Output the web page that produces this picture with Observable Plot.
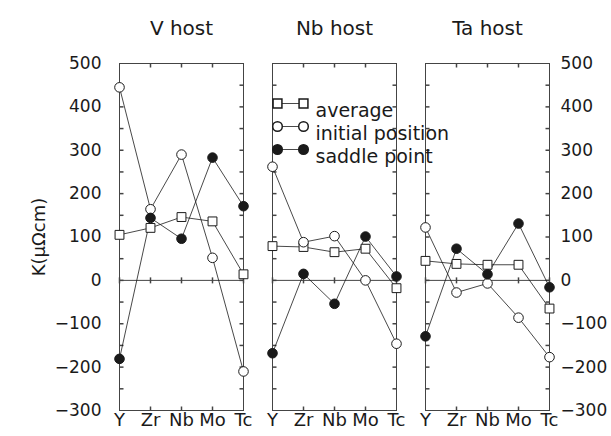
<!DOCTYPE html>
<html><head><meta charset="utf-8">
<script src="https://cdn.jsdelivr.net/npm/d3@7"></script>
<script src="https://cdn.jsdelivr.net/npm/@observablehq/plot@0.6"></script>
<style>body{margin:0;background:#fff;} #chart svg{display:block;}</style>
</head><body><div id="chart"></div>
<script>
const hosts = ["V host", "Nb host", "Ta host"];
const solutes = ["Y", "Zr", "Nb", "Mo", "Tc"];
const seriesNames = ["average", "initial position", "saddle point"];
const averageV  = [105, 121, 146, 136, 14];
const averageNb = [79, 77, 65, 73, -18];
const averageTa = [45, 38, 36, 36, -65];
const initialV  = [445, 164, 290, 52, -210];
const initialNb = [262, 88, 102, 0, -146];
const initialTa = [122, -28, -7, -86, -177];
const saddleV   = [-181, 144, 96, 283, 171];
const saddleNb  = [-168, 15, -54, 101, 9];
const saddleTa  = [-129, 73, 14, 131, -16];
const yTicks = [-300, -200, -100, 0, 100, 200, 300, 400, 500];
const yMinorTicks = [-250, -200, -150, -100, -50, 0, 50, 100, 150, 200, 250, 300, 350, 400, 450];
const yLabel = "K(μΩcm)";

const seriesValues = {
  "average": [averageV, averageNb, averageTa],
  "initial position": [initialV, initialNb, initialTa],
  "saddle point": [saddleV, saddleNb, saddleTa]
};
const rows = [];
for (const s of seriesNames) hosts.forEach((h, hi) => solutes.forEach((el, i) =>
  rows.push({series: s, host: h, solute: el, value: seriesValues[s][hi][i]})));

const tickRows = hosts.flatMap(h => yMinorTicks.map(v => ({host: h, v})));
const xTickRows = hosts.flatMap(h => solutes.slice(1, 4).map(el => ({host: h, solute: el})));
const zeroTickRows = hosts.flatMap(h => solutes.map(el => ({host: h, solute: el, v: 0})));

const seg = (x1, y1, x2, y2) => ({draw(ctx) { ctx.moveTo(x1, y1); ctx.lineTo(x2, y2); }});
const ink = "#1a1a1a";
const markerStyle = {
  "average": {symbol: "square", r: 5, fill: "white"},
  "initial position": {symbol: "circle", r: 4.8, fill: "white"},
  "saddle point": {symbol: "circle", r: 4.8, fill: ink}
};

const marks = [
  Plot.frame({stroke: "#444", strokeWidth: 1}),
  Plot.ruleY([0], {stroke: "#444", strokeWidth: 1}),
  Plot.dot(tickRows, {fx: "host", x: () => "Y", y: "v", symbol: seg(0, 0, 4, 0), stroke: "#444", fill: "none"}),
  Plot.dot(tickRows, {fx: "host", x: () => "Tc", y: "v", symbol: seg(0, 0, -4, 0), stroke: "#444", fill: "none"}),
  Plot.dot(xTickRows, {fx: "host", x: "solute", frameAnchor: "top", symbol: seg(0, 0, 0, 4), stroke: "#444", fill: "none"}),
  Plot.dot(xTickRows, {fx: "host", x: "solute", frameAnchor: "bottom", symbol: seg(0, 0, 0, -4), stroke: "#444", fill: "none"}),
  Plot.dot(zeroTickRows, {fx: "host", x: "solute", y: "v", symbol: seg(0, -3, 0, 3), stroke: "#444", fill: "none"}),
  Plot.line(rows, {fx: "host", x: "solute", y: "value", z: "series", stroke: ink, strokeWidth: 0.8}),
  ...seriesNames.map(s => Plot.dot(rows.filter(d => d.series === s), {
    fx: "host", x: "solute", y: "value", symbol: markerStyle[s].symbol, r: markerStyle[s].r,
    fill: markerStyle[s].fill, stroke: ink, strokeWidth: 1
  })),
  // legend inside the Nb host panel
  ...seriesNames.flatMap((s, i) => [
    Plot.dot([s], {fx: () => "Nb host", frameAnchor: "top-left", dx: 5, dy: 40 + 23 * i, symbol: seg(0, 0, 26, 0), stroke: ink, fill: "none", strokeWidth: 0.8}),
    Plot.dot([s], {fx: () => "Nb host", frameAnchor: "top-left", dx: 5, dy: 40 + 23 * i, symbol: markerStyle[s].symbol, r: markerStyle[s].r, fill: markerStyle[s].fill, stroke: ink}),
    Plot.dot([s], {fx: () => "Nb host", frameAnchor: "top-left", dx: 31, dy: 40 + 23 * i, symbol: markerStyle[s].symbol, r: markerStyle[s].r, fill: markerStyle[s].fill, stroke: ink}),
    Plot.text([s], {fx: () => "Nb host", frameAnchor: "top-left", dx: 43, dy: 40 + 23 * i, text: d => d, textAnchor: "start", fontSize: 19, fill: ink})
  ]),
  Plot.text([yLabel], {fx: () => "V host", frameAnchor: "left", dx: -80, text: d => d, rotate: -90, textAnchor: "middle", lineAnchor: "middle", fontSize: 18, fill: ink}),
  Plot.axisFx({anchor: "top", tickSize: 0, tickPadding: 29, fontSize: 20, label: null, fill: ink}),
  Plot.axisX({anchor: "bottom", tickSize: 0, tickPadding: 3, fontSize: 18, label: null, fill: ink}),
  Plot.axisY({anchor: "left", ticks: yTicks, tickSize: 0, tickPadding: 18, fontSize: 17, label: null, fill: ink}),
  Plot.axisY({anchor: "right", ticks: yTicks, tickSize: 0, tickPadding: 11, fontSize: 17, label: null, fill: ink})
];

const chart = Plot.plot({
  width: 611,
  height: 436,
  marginLeft: 118,
  marginRight: 62,
  marginTop: 63,
  marginBottom: 26,
  style: {fontFamily: "'DejaVu Sans', 'Liberation Sans', Arial, sans-serif", background: "white", color: ink},
  fx: {domain: hosts, paddingInner: 0.19, paddingOuter: 0},
  x: {type: "point", domain: solutes, padding: 0},
  y: {domain: [-300, 500]},
  marks
});
document.getElementById("chart").appendChild(chart);
</script>
</body></html>
